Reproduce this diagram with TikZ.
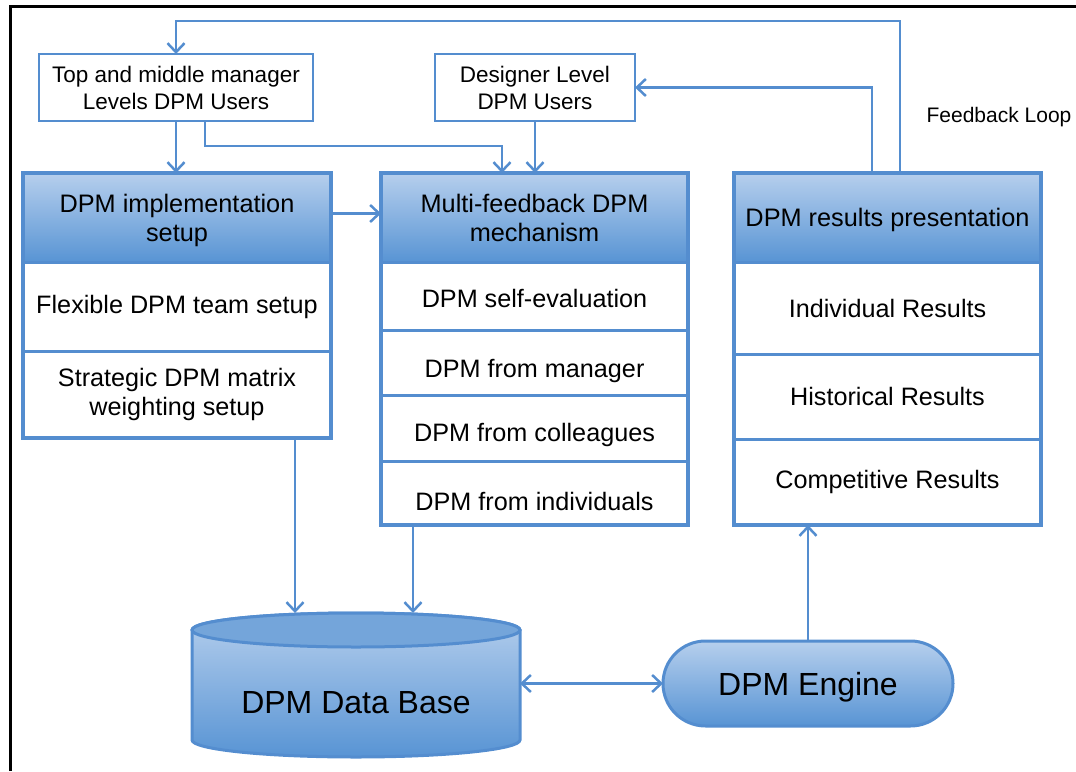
\documentclass[tikz,border=0pt]{standalone}
\usepackage{fontspec}
\setmainfont{Liberation Sans}
\usetikzlibrary{arrows.meta,shapes.misc}
\definecolor{bl}{RGB}{84,141,207}
\definecolor{hdtop}{RGB}{182,207,237}
\definecolor{hdbot}{RGB}{88,148,212}
\definecolor{cyltop}{RGB}{116,165,218}
\begin{document}
\begin{tikzpicture}[x=1pt,y=-1pt,
  arr/.style={draw=bl,line width=2.5pt,-{Straight Barb[length=9pt,width=17pt]}},
  dblarr/.style={draw=bl,line width=2.5pt,{Straight Barb[length=9pt,width=17pt]}-{Straight Barb[length=9pt,width=17pt]}},
  userbox/.style={draw=bl,line width=2.5pt,fill=white,inner sep=0pt,outer sep=0pt,align=center,minimum height=67pt,font=\fontsize{22.5}{27}\selectfont},
  hdr/.style={draw=bl,line width=3pt,top color=hdtop,bottom color=hdbot,minimum width=308pt,minimum height=89pt,inner sep=0pt,outer sep=0pt,align=center,text depth=0pt,font=\fontsize{25.3}{29}\selectfont},
  rowbox/.style={draw=bl,line width=3pt,fill=white,minimum width=308pt,inner sep=0pt,outer sep=0pt,align=center,font=\fontsize{25.2}{29}\selectfont},
  panel/.style={draw=bl,line width=4pt},
  bigtxt/.style={font=\fontsize{32}{36}\selectfont}]
\useasboundingbox (0,0) rectangle (1076,771);
% frame
\draw[line width=3pt] (10,771) -- (10,6) -- (1076,6);

% user boxes
\node[userbox,minimum width=274pt] (tb) at (176,87.5) {Top and middle manager\\Levels DPM Users};
\node[userbox,minimum width=200pt] (dl) at (535,87.5) {Designer Level\\DPM Users};

% left panel
\node[hdr] (lh) at (177,217.5) {DPM implementation\\setup};
\node[rowbox,minimum height=89pt] (lr1) at (177,306.5) {Flexible DPM team setup};
\node[rowbox,minimum height=87pt] (lr2) at (177,394.5) {Strategic DPM matrix\\weighting setup};
\draw[panel] (lh.north west) rectangle (lr2.south east);

% middle panel
\node[hdr,minimum width=307pt] (mh) at (534.5,217.5) {Multi-feedback DPM\\mechanism};
\node[rowbox,minimum width=307pt,minimum height=68pt,text height=24pt] (mr1) at (534.5,296) {DPM self-evaluation};
\node[rowbox,minimum width=307pt,minimum height=65pt,text height=36pt] (mr2) at (534.5,362.5) {DPM from manager};
\node[rowbox,minimum width=307pt,minimum height=66pt,text height=32pt] (mr3) at (534.5,428) {DPM from colleagues};
\node[rowbox,minimum width=307pt,minimum height=64pt,text height=36pt] (mr4) at (534.5,493) {DPM from individuals};
\draw[panel] (mh.north west) rectangle (mr4.south east);

% right panel
\node[hdr,minimum width=307pt] (rh) at (887.5,217.5) {DPM results presentation};
\node[rowbox,minimum width=307pt,minimum height=92pt] (rr1) at (887.5,308) {Individual Results};
\node[rowbox,minimum width=307pt,minimum height=85pt] (rr2) at (887.5,396.5) {Historical Results};
\node[rowbox,minimum width=307pt,minimum height=86pt] (rr3) at (887.5,482) {Competitive Results};
\draw[panel] (rh.north west) rectangle (rr3.south east);

% feedback label
\node[font=\fontsize{21}{25}\selectfont] (fbl) at (999,117) {Feedback Loop};

% database cylinder
\path[draw=bl,line width=3pt,top color=hdtop,bottom color=hdbot]
  (192,630) -- (192,740) arc[start angle=180,end angle=360,x radius=164pt,y radius=17pt]
  -- (520,630) arc[start angle=0,end angle=180,x radius=164pt,y radius=17pt] -- cycle;
\draw[draw=bl,line width=3pt,fill=cyltop] (356,630) ellipse[x radius=164pt,y radius=17pt];
\node[minimum width=328pt,minimum height=141pt,inner sep=0pt,outer sep=0pt] (db) at (356,683.5) {};
\node[bigtxt] (dbtxt) at (356,703) {DPM Data Base};

% engine
\node[rounded rectangle,draw=bl,line width=3pt,top color=hdtop,bottom color=hdbot,
  minimum width=290pt,minimum height=85pt,inner sep=0pt,outer sep=0pt,text depth=0pt,bigtxt] (eng) at (808,683.5) {DPM Engine};

% connectors
\coordinate (fbtop) at (900,21);
\coordinate (bend) at (502,146);
\draw[arr] ([xshift=12.5pt]rh.north) -- (fbtop) -| (tb.north);
\draw[arr] ([xshift=-15.5pt]rh.north) |- (dl.east);
\draw[arr] (tb.south) -- (tb.south |- lh.north);
\draw[arr] ([xshift=29pt]tb.south) |- (bend) -- (bend |- mh.north);
\draw[arr] (dl.south) -- (dl.south |- mh.north);
\draw[arr] ([yshift=4pt]lh.east) -- ([yshift=4pt]mh.west);
\draw[arr] ([xshift=118pt]lr2.south) -- ([xshift=118pt]lr2.south |- db.north);
\draw[arr] ([xshift=-121.5pt]mr4.south) -- ([xshift=-121.5pt]mr4.south |- db.north);
\draw[dblarr] (db.east) -- (eng.west);
\draw[arr] (eng.north) -- (eng.north |- rr3.south);
\end{tikzpicture}
\end{document}
